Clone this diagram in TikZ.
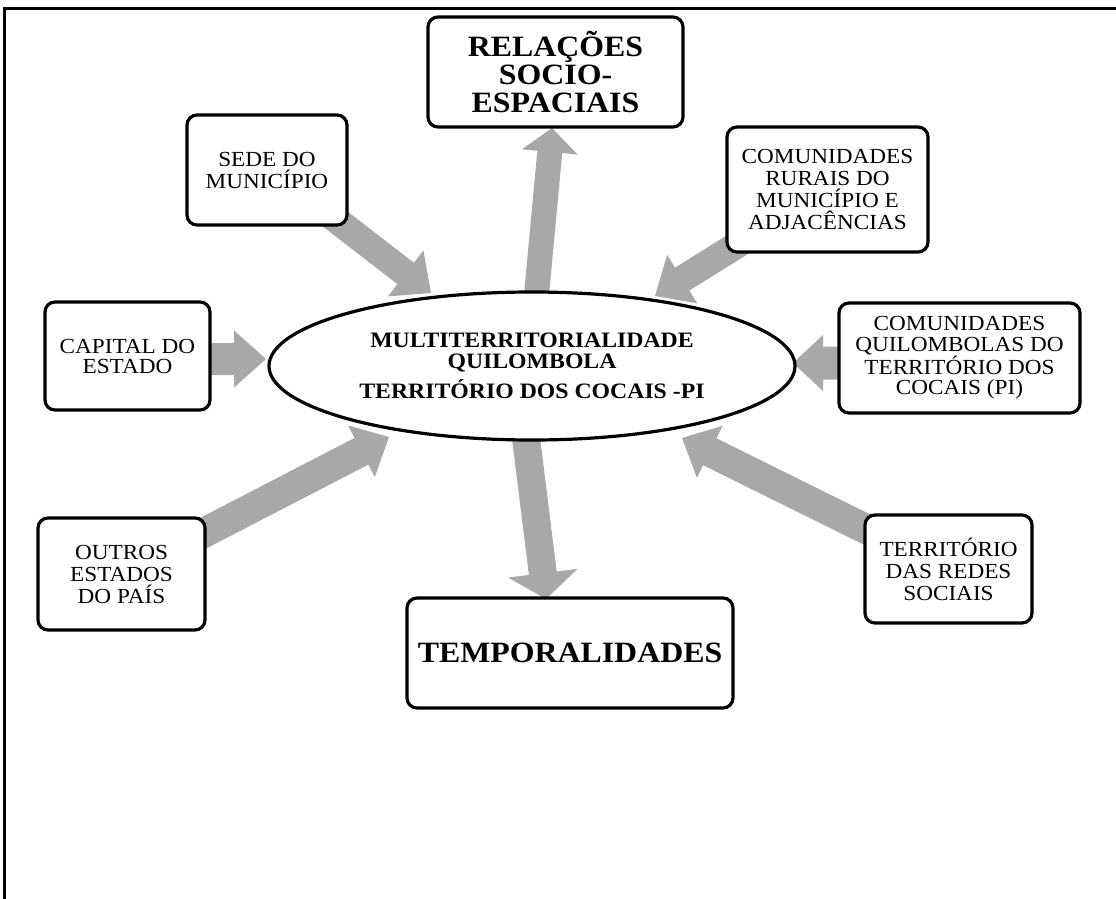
\documentclass[tikz,border=0pt]{standalone}
\usepackage{fontspec}
\setmainfont{Liberation Serif}[FakeStretch=1.08]
\usetikzlibrary{calc,shapes.geometric,backgrounds}
\definecolor{arrowgray}{RGB}{168,168,168}

% Broad grey block arrow: from, to, shaft width, head width, head length
\newcommand{\fatarrow}[5]{%
  \fill[arrowgray] let \p1=(#1), \p2=(#2),
    \n1={atan2(\y2-\y1,\x2-\x1)}, \n2={veclen(\x2-\x1,\y2-\y1)} in
    ($(\p1)+(\n1+90:#3/2)$)
    -- ($(\p1)+(\n1:\n2-#5)+(\n1+90:#3/2)$)
    -- ($(\p1)+(\n1:\n2-#5)+(\n1+90:#4/2)$)
    -- (\p2)
    -- ($(\p1)+(\n1:\n2-#5)+(\n1-90:#4/2)$)
    -- ($(\p1)+(\n1:\n2-#5)+(\n1-90:#3/2)$)
    -- ($(\p1)+(\n1-90:#3/2)$) -- cycle;}

\begin{document}
\begin{tikzpicture}[x=1pt,y=-1pt,
  box/.style={draw, line width=3.2pt, rounded corners=10pt, fill=white,
    align=center, inner sep=0pt},
  small/.style={font=\fontsize{21.5}{22}\selectfont},
  big/.style={font=\fontsize{29.5}{28}\selectfont\bfseries},
  hubstyle/.style={draw, ellipse, line width=3.2pt, fill=white, inner sep=0pt,
    align=center, font=\fontsize{22}{21}\selectfont\bfseries}]
\useasboundingbox (0,0) rectangle (1116,899);

% outer frame (top and left sides)
\draw[line width=3pt, line join=miter] (4.7,899) -- (4.7,8.5) -- (1116,8.5);

% central ellipse
\node[hubstyle, minimum width=526pt, minimum height=148pt] (hub) at (532,366)
  {MULTITERRITORIALIDADE\\QUILOMBOLA\\[6pt]TERRITÓRIO DOS COCAIS -PI};

% surrounding boxes
\node[box, big, minimum width=255pt, minimum height=110pt] (rel) at (555.5,72)
  {RELAÇÕES\\SOCIO-\\ESPACIAIS};
\node[box, small, minimum width=160pt, minimum height=110pt] (sede) at (267,170)
  {SEDE DO\\MUNICÍPIO};
\node[box, small, minimum width=201pt, minimum height=125pt] (rurais) at (827.5,189.5)
  {COMUNIDADES\\RURAIS DO\\MUNICÍPIO E\\ADJACÊNCIAS};
\node[box, font=\fontsize{21.5}{20}\selectfont, minimum width=165pt,
  minimum height=108pt] (capital) at (127.5,356) {CAPITAL DO\\ESTADO};
\node[box, font=\fontsize{21.5}{20.5}\selectfont, minimum width=241pt,
  minimum height=110pt] (quil) at (959.5,358)
  {COMUNIDADES\\QUILOMBOLAS DO\\TERRITÓRIO DOS\\COCAIS (PI)};
\node[box, small, minimum width=167pt, minimum height=112pt] (outros) at (121.5,574)
  {OUTROS\\ESTADOS\\DO PAÍS};
\node[box, small, minimum width=167pt, minimum height=108pt] (redes) at (948.5,569)
  {TERRITÓRIO\\DAS REDES\\SOCIAIS};
\node[box, big, minimum width=326pt, minimum height=110pt] (temp) at (570,653)
  {TEMPORALIDADES};

% arrow end points
\coordinate (hub-up)     at (536,300);
\coordinate (rel-in)     at (552,128);
\coordinate (hub-down)   at (525,430);
\coordinate (temp-in)    at (546,599);
\coordinate (sede-out)   at (330,215);
\coordinate (hub-nw)     at (431,293);
\coordinate (rurais-out) at (745,240);
\coordinate (hub-ne)     at (655,296);
\coordinate (capital-out) at (200,359);
\coordinate (hub-w)      at (266,359);
\coordinate (quil-out)   at (850,363);
\coordinate (hub-e)      at (793,363);
\coordinate (outros-out) at (190,540);
\coordinate (hub-sw)     at (389,437);
\coordinate (redes-out)  at (878,535);
\coordinate (hub-se)     at (682,438);

\begin{pgfonlayer}{background}
  \fill[white] (0,0) rectangle (1116,899);
  \fatarrow{hub-up}{rel-in}{25pt}{56pt}{24pt}
  \fatarrow{hub-down}{temp-in}{28pt}{70pt}{26pt}
  \fatarrow{sede-out}{hub-nw}{27pt}{58pt}{32pt}
  \fatarrow{rurais-out}{hub-ne}{27pt}{57pt}{32pt}
  \fatarrow{capital-out}{hub-w}{32pt}{57pt}{32pt}
  \fatarrow{quil-out}{hub-e}{33pt}{56pt}{30pt}
  \fatarrow{outros-out}{hub-sw}{30pt}{58pt}{31pt}
  \fatarrow{redes-out}{hub-se}{30pt}{58pt}{31pt}
\end{pgfonlayer}
\end{tikzpicture}
\end{document}
